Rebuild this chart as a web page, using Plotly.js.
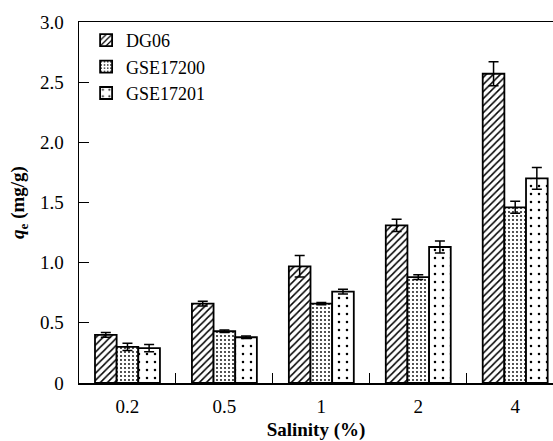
<!DOCTYPE html>
<html>
<head>
<meta charset="utf-8">
<script src="https://cdn.plot.ly/plotly-3.0.1.min.js"></script>
<style>
html,body{margin:0;padding:0;overflow:hidden;background:#fff;}
#chart{width:553px;height:441px;}
</style>
</head>
<body>
<div id="chart"></div>
<script>
const categories = ["0.2", "0.5", "1", "2", "4"];
const seriesNames = ["DG06", "GSE17200", "GSE17201"];
const dg06 = [0.40, 0.66, 0.97, 1.31, 2.57];
const dg06Err = [0.02, 0.02, 0.09, 0.05, 0.10];
const gse17200 = [0.30, 0.43, 0.66, 0.88, 1.46];
const gse17200Err = [0.03, 0.01, 0.01, 0.02, 0.05];
const gse17201 = [0.29, 0.38, 0.76, 1.13, 1.70];
const gse17201Err = [0.03, 0.01, 0.02, 0.05, 0.09];
const yTickVals = [0, 0.5, 1, 1.5, 2, 2.5, 3];
const yTickText = ["0", "0.5", "1.0", "1.5", "2.0", "2.5", "3.0"];

const values = [dg06, gse17200, gse17201];
const errs = [dg06Err, gse17200Err, gse17201Err];
const patterns = [
  {shape: "/", size: 5, solidity: 0.3, fgcolor: "#000", bgcolor: "#fff"},
  {shape: ".", size: 4, solidity: 0.16, fgcolor: "#000", bgcolor: "#fff"},
  {shape: ".", size: 8, solidity: 0.08, fgcolor: "#000", bgcolor: "#fff"}
];

const traces = seriesNames.map((name, i) => ({
  type: "bar",
  name: name,
  x: categories,
  y: values[i],
  error_y: {type: "data", array: errs[i], visible: true, color: "#000", thickness: 1.5, width: 5},
  marker: {color: "#fff", line: {color: "#000", width: 1.8}, pattern: patterns[i]}
}));

const fam = "serif";
const font = {family: fam, size: 19, color: "#000"};

const layout = {
  width: 553, height: 441,
  margin: {l: 79, r: 0, t: 22, b: 58},
  paper_bgcolor: "#fff", plot_bgcolor: "#fff",
  font: font,
  barmode: "group",
  bargap: 0.33,
  bargroupgap: 0,
  showlegend: true,
  legend: {x: 0.015, y: 1.0, xanchor: "left", yanchor: "top", bgcolor: "rgba(0,0,0,0)",
           font: {family: fam, size: 18, color: "#000"}, tracegroupgap: 0, itemwidth: 30},
  xaxis: {
    type: "category",
    range: [-0.5, 4.39],
    tickson: "boundaries",
    ticks: "inside", ticklen: 10, tickwidth: 1, tickcolor: "#000",
    showline: true, linecolor: "#000", linewidth: 1.5, mirror: true,
    showgrid: false, zeroline: false,
    ticklabelstandoff: 6,
    tickfont: {family: fam, size: 19, color: "#000"},
    title: {text: "<b>Salinity (%)</b>", font: {family: fam, size: 19, color: "#000"}, standoff: 8}
  },
  yaxis: {
    range: [0, 3],
    tickvals: yTickVals, ticktext: yTickText,
    ticks: "inside", ticklen: 10, tickwidth: 1, tickcolor: "#000",
    showline: true, linecolor: "#000", linewidth: 1.5, mirror: false,
    showgrid: false, zeroline: false,
    ticklabelstandoff: 10,
    tickfont: {family: fam, size: 19, color: "#000"},
    title: {text: "<b><i>q</i><sub>e</sub> (mg/g)</b>", font: {family: fam, size: 19, color: "#000"}, standoff: 10}
  }
};

Plotly.newPlot("chart", traces, layout, {displayModeBar: false, staticPlot: true});
</script>
</body>
</html>
